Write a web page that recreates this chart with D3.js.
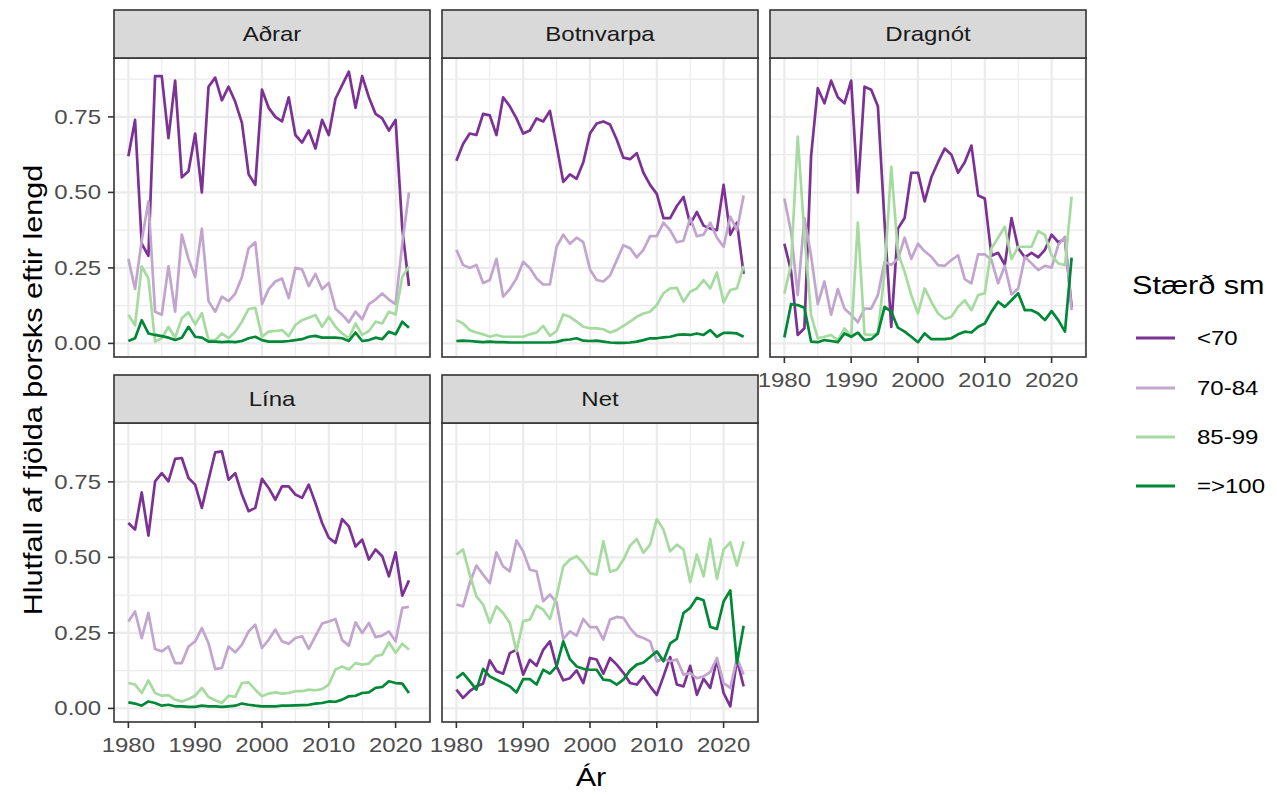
<!DOCTYPE html>
<html>
<head>
<meta charset="utf-8">
<script src="https://cdn.jsdelivr.net/npm/d3@7"></script>
<style>
  body { margin: 0; background: #ffffff; }
  svg { display: block; }
</style>
</head>
<body>
<svg id="chart" width="1277" height="795"></svg>
<script>
// Hlutfall af fjölda þorsks eftir lengd, eftir veiðarfæri, 1980-2023
const firstYear = 1980;
const gears = ["Aðrar", "Botnvarpa", "Dragnót", "Lína", "Net"];
const sizeClasses = ["<70", "70-84", "85-99", "=>100"];
const xTickValues = [1980, 1990, 2000, 2010, 2020];
const yTickValues = [0, 0.25, 0.5, 0.75];
const yTickLabels = ["0.00", "0.25", "0.50", "0.75"];

// Aðrar (1980-2022)
const adrarLt70 = [0.62, 0.74, 0.33, 0.29, 0.885, 0.885, 0.68, 0.87, 0.55, 0.57,
  0.695, 0.50, 0.85, 0.88, 0.805, 0.85, 0.80, 0.73, 0.56, 0.525,
  0.84, 0.78, 0.75, 0.735, 0.815, 0.69, 0.665, 0.705, 0.645, 0.74,
  0.69, 0.81, 0.855, 0.90, 0.78, 0.885, 0.815, 0.76, 0.745, 0.705,
  0.74, 0.38, 0.19];
const adrar70to84 = [0.28, 0.18, 0.34, 0.47, 0.105, 0.095, 0.255, 0.105, 0.36, 0.28,
  0.22, 0.38, 0.14, 0.105, 0.155, 0.14, 0.165, 0.22, 0.315, 0.335,
  0.13, 0.18, 0.205, 0.215, 0.15, 0.25, 0.245, 0.19, 0.23, 0.18,
  0.20, 0.115, 0.095, 0.07, 0.105, 0.08, 0.13, 0.145, 0.165, 0.145,
  0.13, 0.33, 0.50];
const adrar85to99 = [0.095, 0.06, 0.255, 0.215, 0.006, 0.017, 0.055, 0.019, 0.083, 0.103,
  0.063, 0.10, 0.011, 0.011, 0.033, 0.017, 0.039, 0.072, 0.114, 0.118,
  0.022, 0.039, 0.041, 0.044, 0.024, 0.061, 0.077, 0.085, 0.094, 0.055,
  0.088, 0.055, 0.033, 0.017, 0.066, 0.028, 0.041, 0.072, 0.066, 0.105,
  0.096, 0.22, 0.255];
const adrarGe100 = [0.008, 0.017, 0.077, 0.033, 0.028, 0.024, 0.019, 0.011, 0.019, 0.055,
  0.022, 0.019, 0.006, 0.006, 0.004, 0.006, 0.004, 0.008, 0.017, 0.022,
  0.011, 0.006, 0.006, 0.006, 0.008, 0.011, 0.014, 0.022, 0.025, 0.019,
  0.019, 0.019, 0.017, 0.008, 0.036, 0.008, 0.011, 0.019, 0.014, 0.039,
  0.030, 0.072, 0.052];

// Botnvarpa (1980-2023)
const botnLt70 = [0.605, 0.66, 0.695, 0.69, 0.76, 0.755, 0.69, 0.815, 0.785, 0.745,
  0.695, 0.705, 0.745, 0.735, 0.77, 0.655, 0.535, 0.56, 0.545, 0.60,
  0.695, 0.728, 0.735, 0.725, 0.675, 0.615, 0.61, 0.63, 0.565, 0.525,
  0.495, 0.415, 0.415, 0.455, 0.485, 0.395, 0.435, 0.39, 0.38, 0.375,
  0.525, 0.36, 0.40, 0.23];
const botn70to84 = [0.31, 0.26, 0.25, 0.26, 0.20, 0.21, 0.28, 0.155, 0.18, 0.215,
  0.27, 0.25, 0.215, 0.195, 0.195, 0.32, 0.36, 0.33, 0.35, 0.335,
  0.245, 0.21, 0.205, 0.225, 0.275, 0.325, 0.315, 0.285, 0.31, 0.355,
  0.355, 0.40, 0.375, 0.335, 0.34, 0.415, 0.355, 0.36, 0.40, 0.35,
  0.32, 0.42, 0.375, 0.49];
const botn85to99 = [0.077, 0.066, 0.044, 0.036, 0.03, 0.022, 0.028, 0.022, 0.022, 0.022,
  0.022, 0.03, 0.036, 0.058, 0.025, 0.041, 0.096, 0.088, 0.072, 0.055,
  0.05, 0.05, 0.047, 0.036, 0.044, 0.058, 0.072, 0.088, 0.099, 0.105,
  0.127, 0.166, 0.182, 0.184, 0.138, 0.171, 0.182, 0.21, 0.182, 0.235,
  0.136, 0.177, 0.182, 0.257];
const botnGe100 = [0.008, 0.009, 0.008, 0.006, 0.004, 0.006, 0.004, 0.004, 0.003, 0.003,
  0.003, 0.003, 0.003, 0.003, 0.003, 0.005, 0.011, 0.013, 0.017, 0.009,
  0.008, 0.009, 0.006, 0.003, 0.002, 0.002, 0.003, 0.006, 0.011, 0.017,
  0.017, 0.02, 0.022, 0.028, 0.03, 0.028, 0.033, 0.028, 0.044, 0.022,
  0.035, 0.035, 0.033, 0.022];

// Dragnót (1980-2023)
const dragLt70 = [0.33, 0.24, 0.028, 0.05, 0.62, 0.845, 0.795, 0.87, 0.815, 0.795,
  0.87, 0.50, 0.85, 0.84, 0.785, 0.40, 0.055, 0.38, 0.415, 0.565,
  0.565, 0.47, 0.55, 0.60, 0.645, 0.625, 0.565, 0.60, 0.655, 0.49,
  0.48, 0.29, 0.30, 0.26, 0.415, 0.315, 0.285, 0.30, 0.285, 0.31,
  0.36, 0.335, 0.345, 0.12];
const drag70to84 = [0.48, 0.37, 0.16, 0.415, 0.29, 0.13, 0.205, 0.095, 0.18, 0.115,
  0.095, 0.07, 0.115, 0.115, 0.16, 0.27, 0.26, 0.28, 0.35, 0.28,
  0.33, 0.305, 0.287, 0.259, 0.257, 0.276, 0.292, 0.213, 0.199, 0.295,
  0.295, 0.276, 0.199, 0.257, 0.162, 0.182, 0.287, 0.265, 0.243, 0.257,
  0.251, 0.326, 0.353, 0.11];
const drag85to99 = [0.165, 0.26, 0.685, 0.36, 0.094, 0.017, 0.022, 0.028, 0.011, 0.05,
  0.022, 0.40, 0.03, 0.028, 0.033, 0.237, 0.585, 0.30, 0.237, 0.16,
  0.099, 0.182, 0.138, 0.099, 0.081, 0.088, 0.121, 0.143, 0.11, 0.16,
  0.166, 0.315, 0.35, 0.386, 0.279, 0.32, 0.32, 0.32, 0.372, 0.359,
  0.292, 0.265, 0.259, 0.486];
const dragGe100 = [0.02, 0.13, 0.127, 0.118, 0.006, 0.004, 0.011, 0.008, 0.004, 0.033,
  0.022, 0.036, 0.011, 0.014, 0.033, 0.121, 0.105, 0.052, 0.039, 0.022,
  0.004, 0.033, 0.014, 0.014, 0.014, 0.017, 0.03, 0.039, 0.036, 0.055,
  0.066, 0.105, 0.138, 0.121, 0.143, 0.166, 0.11, 0.11, 0.099, 0.077,
  0.107, 0.077, 0.039, 0.284];

// Lína (1980-2022)
const linaLt70 = [0.614, 0.592, 0.715, 0.572, 0.752, 0.779, 0.752, 0.826, 0.829, 0.763,
  0.741, 0.664, 0.757, 0.848, 0.851, 0.757, 0.779, 0.708, 0.653, 0.664,
  0.76, 0.73, 0.691, 0.735, 0.735, 0.708, 0.697, 0.741, 0.68, 0.614,
  0.565, 0.548, 0.627, 0.603, 0.536, 0.559, 0.493, 0.526, 0.504, 0.437,
  0.517, 0.373, 0.424];
const lina70to84 = [0.288, 0.321, 0.233, 0.316, 0.197, 0.189, 0.205, 0.15, 0.15, 0.205,
  0.222, 0.266, 0.216, 0.13, 0.134, 0.205, 0.186, 0.211, 0.255, 0.277,
  0.2, 0.227, 0.261, 0.222, 0.214, 0.233, 0.239, 0.197, 0.239, 0.281,
  0.288, 0.296, 0.226, 0.208, 0.285, 0.25, 0.283, 0.236, 0.241, 0.255,
  0.222, 0.333, 0.336];
const lina85to99 = [0.084, 0.079, 0.051, 0.093, 0.051, 0.042, 0.044, 0.029, 0.023, 0.031,
  0.042, 0.068, 0.038, 0.027, 0.018, 0.042, 0.038, 0.084, 0.086, 0.062,
  0.04, 0.049, 0.053, 0.049, 0.051, 0.057, 0.057, 0.062, 0.06, 0.064,
  0.079, 0.129, 0.139, 0.129, 0.15, 0.145, 0.148, 0.173, 0.178, 0.219,
  0.184, 0.214, 0.195];
const linaGe100 = [0.02, 0.016, 0.009, 0.023, 0.018, 0.009, 0.012, 0.007, 0.007, 0.005,
  0.005, 0.009, 0.007, 0.007, 0.005, 0.007, 0.009, 0.016, 0.012, 0.009,
  0.007, 0.007, 0.007, 0.009, 0.009, 0.01, 0.011, 0.012, 0.016, 0.018,
  0.023, 0.022, 0.029, 0.04, 0.042, 0.051, 0.053, 0.068, 0.071, 0.09,
  0.084, 0.082, 0.051];

// Net (1980-2023)
const netLt70 = [0.062, 0.035, 0.057, 0.073, 0.082, 0.159, 0.123, 0.115, 0.183, 0.194,
  0.112, 0.161, 0.141, 0.194, 0.222, 0.139, 0.093, 0.1, 0.126, 0.084,
  0.167, 0.162, 0.115, 0.167, 0.145, 0.118, 0.084, 0.079, 0.106, 0.073,
  0.045, 0.106, 0.17, 0.079, 0.073, 0.141, 0.045, 0.098, 0.068, 0.161,
  0.051, 0.007, 0.161, 0.073];
const net70to84 = [0.344, 0.338, 0.415, 0.473, 0.443, 0.415, 0.517, 0.47, 0.454, 0.556,
  0.52, 0.459, 0.454, 0.355, 0.377, 0.351, 0.23, 0.255, 0.241, 0.296,
  0.269, 0.269, 0.228, 0.294, 0.303, 0.3, 0.266, 0.241, 0.233, 0.222,
  0.156, 0.164, 0.156, 0.162, 0.112, 0.117, 0.1, 0.106, 0.12, 0.167,
  0.084, 0.068, 0.167, 0.112];
const net85to99 = [0.509, 0.526, 0.443, 0.371, 0.344, 0.283, 0.338, 0.316, 0.283, 0.189,
  0.289, 0.294, 0.34, 0.327, 0.296, 0.371, 0.47, 0.493, 0.504, 0.481,
  0.448, 0.443, 0.553, 0.453, 0.459, 0.492, 0.539, 0.561, 0.515, 0.542,
  0.627, 0.592, 0.52, 0.542, 0.526, 0.418, 0.509, 0.437, 0.561, 0.429,
  0.526, 0.55, 0.473, 0.553];
const netGe100 = [0.1, 0.117, 0.09, 0.062, 0.131, 0.106, 0.095, 0.084, 0.073, 0.053,
  0.097, 0.097, 0.079, 0.128, 0.115, 0.139, 0.222, 0.163, 0.139, 0.131,
  0.128, 0.128, 0.095, 0.093, 0.079, 0.095, 0.126, 0.145, 0.152, 0.17,
  0.189, 0.156, 0.215, 0.23, 0.316, 0.333, 0.366, 0.358, 0.27, 0.263,
  0.354, 0.391, 0.15, 0.274];

const seriesByGear = {
  "Aðrar": [adrarLt70, adrar70to84, adrar85to99, adrarGe100],
  "Botnvarpa": [botnLt70, botn70to84, botn85to99, botnGe100],
  "Dragnót": [dragLt70, drag70to84, drag85to99, dragGe100],
  "Lína": [linaLt70, lina70to84, lina85to99, linaGe100],
  "Net": [netLt70, net70to84, net85to99, netGe100]
};

const colors = ["#7b3294", "#c2a5cf", "#a6dba0", "#008837"];

// ---- layout ----
const FONT = "'Liberation Sans', Arial, Helvetica, sans-serif";
const SX = 1.2;                  // horizontal stretch of glyphs
const colLeft = [114, 442, 770];
const panelW = 316;
const rowTop = [58, 423];
const panelH = 299;
const stripH = 48;
const nCols = 3;
const smallText = 20;
const bigText = 25.5;

const svg = d3.select("#chart");

function label(parent, x, y, str, size, anchor, fill, rotate) {
  return parent.append("text")
    .attr("transform", `translate(${x},${y})${rotate ? " rotate(-90)" : ""} scale(${SX},1)`)
    .attr("text-anchor", anchor)
    .style("font-family", FONT)
    .style("font-size", size + "px")
    .attr("fill", fill)
    .text(str);
}

// shared scales (fixed facet scales)
const allYears = d3.range(firstYear, 2024);
const xDomain = d3.extent(allYears);
const xPad = (xDomain[1] - xDomain[0]) * 0.05;
const yMax = d3.max(Object.values(seriesByGear).flat(2));
const yPad = yMax * 0.05;

gears.forEach((gear, gi) => {
  const col = gi % nCols, row = Math.floor(gi / nCols);
  const x0 = colLeft[col], y0 = rowTop[row];
  const x = d3.scaleLinear().domain([xDomain[0] - xPad, xDomain[1] + xPad]).range([x0, x0 + panelW]);
  const y = d3.scaleLinear().domain([-yPad, yMax + yPad]).range([y0 + panelH, y0]);
  const g = svg.append("g");

  // panel background
  g.append("rect").attr("x", x0).attr("y", y0).attr("width", panelW).attr("height", panelH).attr("fill", "#ffffff");

  // minor grid
  const xMinor = d3.range(1975, 2030, 10).filter(v => v > x.domain()[0] && v < x.domain()[1]);
  const yMinor = [0.125, 0.375, 0.625, 0.875].filter(v => v < y.domain()[1]);
  g.selectAll(".xminor").data(xMinor).join("line")
    .attr("x1", d => x(d)).attr("x2", d => x(d)).attr("y1", y0).attr("y2", y0 + panelH)
    .attr("stroke", "#ebebeb").attr("stroke-width", 1.1);
  g.selectAll(".yminor").data(yMinor).join("line")
    .attr("x1", x0).attr("x2", x0 + panelW).attr("y1", d => y(d)).attr("y2", d => y(d))
    .attr("stroke", "#ebebeb").attr("stroke-width", 1.1);
  // major grid
  g.selectAll(".xmajor").data(xTickValues).join("line")
    .attr("x1", d => x(d)).attr("x2", d => x(d)).attr("y1", y0).attr("y2", y0 + panelH)
    .attr("stroke", "#ebebeb").attr("stroke-width", 2.2);
  g.selectAll(".ymajor").data(yTickValues).join("line")
    .attr("x1", x0).attr("x2", x0 + panelW).attr("y1", d => y(d)).attr("y2", d => y(d))
    .attr("stroke", "#ebebeb").attr("stroke-width", 2.2);

  // series lines
  const line = d3.line().x((d, i) => x(firstYear + i)).y(d => y(d));
  seriesByGear[gear].forEach((vals, si) => {
    g.append("path").datum(vals)
      .attr("d", line)
      .attr("fill", "none")
      .attr("stroke", colors[si])
      .attr("stroke-width", 2.7)
      .attr("stroke-linejoin", "round");
  });

  // panel border
  g.append("rect").attr("x", x0).attr("y", y0).attr("width", panelW).attr("height", panelH)
    .attr("fill", "none").attr("stroke", "#333333").attr("stroke-width", 1.6);

  // strip
  g.append("rect").attr("x", x0).attr("y", y0 - stripH).attr("width", panelW).attr("height", stripH)
    .attr("fill", "#d9d9d9").attr("stroke", "#333333").attr("stroke-width", 1.6);
  label(g, x0 + panelW / 2, y0 - stripH / 2 + 7, gear, smallText, "middle", "#1a1a1a");

  // y axis on the first column
  if (col === 0) {
    const ay = g.append("g");
    ay.selectAll("line").data(yTickValues).join("line")
      .attr("x1", x0 - 6).attr("x2", x0).attr("y1", d => y(d)).attr("y2", d => y(d))
      .attr("stroke", "#333333").attr("stroke-width", 1.6);
    yTickValues.forEach((v, i) => label(ay, x0 - 13, y(v) + 7, yTickLabels[i], smallText, "end", "#4d4d4d"));
  }

  // x axis on the bottom panel of every column
  const hasBelow = gi + nCols < gears.length;
  if (!hasBelow) {
    const ax = g.append("g");
    ax.selectAll("line").data(xTickValues).join("line")
      .attr("x1", d => x(d)).attr("x2", d => x(d)).attr("y1", y0 + panelH).attr("y2", y0 + panelH + 6)
      .attr("stroke", "#333333").attr("stroke-width", 1.6);
    xTickValues.forEach(v => label(ax, x(v), y0 + panelH + 30, String(v), smallText, "middle", "#4d4d4d"));
  }
});

// axis titles
label(svg, 591, 786, "Ár", bigText, "middle", "#000000");
label(svg, 42, 390, "Hlutfall af fjölda þorsks eftir lengd", bigText, "middle", "#000000", true);

// legend
const legend = svg.append("g");
label(legend, 1132, 294, "Stærð sm", bigText, "start", "#000000");
const keyY = [338, 388, 437, 486];
sizeClasses.forEach((cls, i) => {
  legend.append("line")
    .attr("x1", 1136).attr("x2", 1175).attr("y1", keyY[i]).attr("y2", keyY[i])
    .attr("stroke", colors[i]).attr("stroke-width", 2.9);
  label(legend, 1197, keyY[i] + 7, cls, smallText, "start", "#000000");
});
</script>
</body>
</html>
